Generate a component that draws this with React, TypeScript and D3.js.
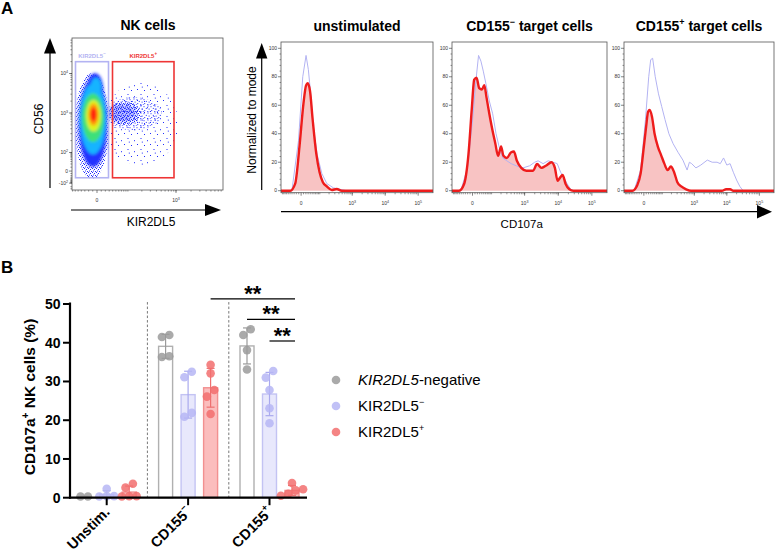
import React from 'react';
import * as d3 from 'd3';

const FONT = "'Liberation Sans', Arial, Helvetica, sans-serif";

// ================= Panel A (left): NK cells dot plot =================
// display units are decades of a logicle-like scale
const flowGateSups = ['−', '+'];
const flowGateX = [[0.99, 1.65], [1.73, 2.96]];
const flowGateY = [1.36, 4.3];
const flowGateColors = ['#b3b3f2', '#ee3535'];
const flowXTickValues = [0, 1000];
const flowXTickLabels = [['0', ''], ['10', '3']];
const flowYTickValues = [10000, 1000, 100, 0, -100];
const flowYTickLabels = [['10', '4'], ['10', '3'], ['10', '2'], ['0', ''], ['-10', '2']];
// density layers [cx, cy, rx, ry, level] (level 0 = blue ... 5 = red)
const densityLayers: number[][] = [
  [1.34, 2.75, 0.29, 1.12, 0],
  [1.38, 3.58, 0.17, 0.43, 0],
  [1.34, 2.85, 0.26, 0.9, 1],
  [1.40, 3.65, 0.11, 0.25, 1],
  [1.34, 2.88, 0.22, 0.62, 2],
  [1.35, 2.93, 0.15, 0.4, 3],
  [1.35, 2.96, 0.10, 0.28, 4],
  [1.35, 2.96, 0.06, 0.18, 5],
];
const densityColors = ['#2233ff', '#14b4ff', '#3ee07a', '#dcf51c', '#ff9a10', '#ff1a10'];
// KIR2DL5+ cloud [cx, cy, rx, ry, opacity]
const cloudLayers: number[][] = [
  [1.9, 3.0, 0.3, 0.22, 0.3],
];
// speckle (single events) regions [cx, cy, rx, ry, kind 0 dense / 1 medium / 2 sparse]
const speckleRegions: number[][] = [
  [1.32, 2.67, 0.34, 1.34, 0],
  [2.3, 2.72, 0.75, 1.05, 2],
  [2.14, 2.98, 0.58, 0.42, 1],
  [1.98, 3.0, 0.32, 0.3, 0],
];

// ================= Panel A (right): CD107a histograms =================
// [display position (decades), % of mode]
const unstimRed = [[1.12, 0], [1.27, 5], [1.40, 31], [1.52, 61], [1.60, 74], [1.65, 75.5], [1.72, 70], [1.80, 50], [1.91, 26], [2.01, 13], [2.11, 6], [2.23, 3], [2.38, 0.5], [2.53, 1.2], [2.68, 0]];
const unstimLav = [[1.17, 0], [1.37, 35], [1.50, 80], [1.60, 95], [1.67, 85], [1.74, 68], [1.82, 45], [1.94, 25], [2.08, 12], [2.23, 5], [2.43, 2], [2.63, 1], [2.83, 0]];
const negRed = [[1.05, 0], [1.20, 4.7], [1.33, 25.7], [1.43, 58], [1.50, 78], [1.57, 79.4], [1.65, 72], [1.73, 71], [1.80, 74], [1.87, 65], [1.95, 54], [2.03, 44], [2.13, 33], [2.21, 24.5], [2.30, 31], [2.37, 24.5], [2.47, 23], [2.60, 27], [2.68, 27.5], [2.77, 21], [2.90, 16], [3.05, 14], [3.25, 14], [3.37, 18.7], [3.50, 16], [3.63, 17.5], [3.80, 20], [3.90, 16], [3.98, 7], [4.05, 9], [4.13, 11], [4.22, 4.7], [4.33, 1], [4.45, 0]];
const negLav = [[1.10, 0], [1.30, 16], [1.45, 49], [1.55, 77], [1.63, 95], [1.70, 91], [1.77, 84], [1.85, 75], [1.95, 63], [2.05, 54], [2.15, 40], [2.25, 30], [2.35, 23], [2.47, 21], [2.60, 19], [2.75, 17.5], [2.95, 16], [3.15, 17.5], [3.30, 20], [3.40, 21], [3.55, 19], [3.70, 21], [3.85, 20], [3.97, 19], [4.07, 13], [4.17, 9], [4.27, 4.7], [4.37, 1], [4.45, 0]];
const posRed = [[1.10, 0], [1.25, 4], [1.35, 12], [1.45, 31], [1.52, 45], [1.58, 55.5], [1.63, 56.7], [1.70, 52], [1.78, 40], [1.88, 31], [1.98, 25], [2.08, 19], [2.18, 14.5], [2.28, 17], [2.38, 13], [2.48, 6], [2.60, 3], [2.75, 1], [2.90, 0], [3.85, 0], [3.98, 1], [4.10, 1], [4.20, 0]];
const posLav = [[1.15, 0], [1.35, 14.5], [1.50, 50], [1.60, 80], [1.66, 92], [1.72, 93], [1.80, 80], [1.90, 68], [2.00, 59], [2.10, 50], [2.22, 40], [2.35, 33], [2.50, 27], [2.65, 21.5], [2.78, 14.5], [2.85, 20], [2.92, 19], [3.05, 16], [3.20, 18], [3.40, 21.5], [3.55, 20], [3.70, 20], [3.80, 19], [3.90, 23], [4.00, 18], [4.10, 19], [4.20, 13], [4.30, 7.5], [4.40, 3], [4.50, 0]];
const histTitles = ['unstimulated', 'CD155', 'CD155'];
const histTitleSups = ['', '−', '+'];
const histTitleRest = ['', ' target cells', ' target cells'];
const histRedSeries = [unstimRed, negRed, posRed];
const histLavSeries = [unstimLav, negLav, posLav];
const histYTicks = [0, 20, 40, 60, 80, 100];
const histXTickValues = [0, 1000, 10000, 100000];
const histXTickLabels = [['0', ''], ['10', '3'], ['10', '4'], ['10', '5']];

// ================= Panel B: bar chart =================
const categories = ['Unstim.', 'CD155−', 'CD155+'];
const categoryBase = ['Unstim.', 'CD155', 'CD155'];
const categorySup = ['', '−', '+'];
const seriesKeys = ['neg', 'lav', 'pos'];
const negativeValues = [[0.3, 0.3], [41.5, 42.0, 36.5, 36.3], [43.5, 42.0, 38.1, 33.1]];
const kirNegValues = [[2.3, 0.4, 0.4, 0.3], [32.5, 31.1, 21.9, 20.9], [32.7, 31.0, 27.8, 23.1, 19.2]];
const kirPosValues = [[3.6, 2.6, 0.4, 0.4, 0.3], [34.3, 32.1, 27.8, 26.1, 21.6], [3.8, 2.2, 1.9, 1.0, 0.5]];
const barYTicks = [0, 10, 20, 30, 40, 50];
// significance: [category a, series a, category b, series b, bracket level (%)]
const comparisons: [number, number, number, number, number][] = [
  [1, 2, 2, 2, 51.3],
  [2, 0, 2, 2, 46.05],
  [2, 1, 2, 2, 40.45],
];
const comparisonLabels = ['**', '**', '**'];
const legendLabels = ['KIR2DL5', 'KIR2DL5', 'KIR2DL5'];
const legendSups = ['', '−', '+'];

// colours
const pointColors = ['#9b9b9b', '#b6b6f5', '#f26e6e'];
const barFills = ['#ffffff', '#e8e8fc', '#fbbdbd'];
const barStrokes = ['#b0b0b0', '#c3c3f3', '#f29090'];
const errColors = ['#9a9a9a', '#a9a9ee', '#ee7070'];

// ---------- transforms ----------
const histT = (v: number) => (v >= 1000 ? Math.log10(v) : 1.45 + (1.55 * Math.asinh(v / 60)) / Math.asinh(1000 / 60));
const flowXT = (v: number) => (v >= 1000 ? Math.log10(v) : 1.42 + (1.58 * Math.asinh(v / 50)) / Math.asinh(20));
const flowYT = (v: number) => (v >= 100 ? Math.log10(v) : 1.53 + ((v < 0 ? 0.65 : 1) * 0.47 * Math.asinh(v / 20)) / Math.asinh(5));
const minorValues = [
  ...d3.range(10, 100, 10).flatMap((v) => [v, -v]),
  ...d3.range(100, 1000, 100).flatMap((v) => [v, -v]),
  ...d3.range(1000, 10000, 1000),
  ...d3.range(10000, 100000, 10000),
];

// speckle textures: dot offsets inside a repeating tile [tileW, tileH, [x,y]...]
const speckleTiles: [number, number, number[][]][] = [
  [4, 4, [[0, 0], [2, 1], [1, 2.5], [3, 3]]],
  [7, 7, [[0.5, 0.5], [3.5, 1.2], [5.8, 2.9], [1.6, 3.6], [4.2, 5.1], [0.3, 6.0], [2.8, 6.3]]],
  [13, 11, [[1, 2], [7, 1], [10.5, 6], [4, 8.2], [11.8, 9.6]]],
];

function SupText(props: any) {
  const { base, sup, size, supSize, supDy, italicBase, ...rest } = props;
  return (
    <text {...rest} fontSize={size}>
      <tspan fontStyle={italicBase ? 'italic' : undefined}>{base}</tspan>
      {sup ? (
        <tspan dy={supDy} fontSize={supSize}>
          {sup}
        </tspan>
      ) : null}
    </text>
  );
}

function FlowPlot() {
  const X0 = 72, X1 = 223, Y0 = 38, Y1 = 190;
  const x = d3.scaleLinear().domain([0.92, 3.94]).range([X0, X1]);
  const y = d3.scaleLinear().domain([1.05, 4.9]).range([Y1, Y0]);
  const pxX = (u: number) => x(u) - x(0);
  const pxY = (u: number) => y(0) - y(u);
  const xMinor = minorValues.map(flowXT).filter((u) => u > 0.92 && u < 3.94);
  const yMinor = minorValues.map(flowYT).filter((u) => u > 1.05 && u < 4.9);
  return (
    <g>
      <defs>
        <clipPath id="flowclip">
          <rect x={X0} y={Y0} width={X1 - X0} height={Y1 - Y0} />
        </clipPath>
        <filter id="blur1" x="-50%" y="-50%" width="200%" height="200%">
          <feGaussianBlur stdDeviation="1.6" />
        </filter>
        {speckleTiles.map(([w, h, dots], i) => (
          <pattern key={i} id={'spk' + i} width={w} height={h} patternUnits="userSpaceOnUse">
            {dots.map((d, k) => (
              <rect key={k} x={d[0]} y={d[1]} width={1} height={1} fill="#1f2bff" />
            ))}
          </pattern>
        ))}
      </defs>
      <text x={148} y={29.5} textAnchor="middle" fontSize={14} fontWeight="bold">NK cells</text>
      <g clipPath="url(#flowclip)">
        {speckleRegions.map((s, i) => (
          <ellipse key={'s' + i} cx={x(s[0])} cy={y(s[1])} rx={pxX(s[2])} ry={pxY(s[3])} fill={`url(#spk${s[4]})`} />
        ))}
        <g filter="url(#blur1)">
          {cloudLayers.map((c, i) => (
            <ellipse key={'c' + i} cx={x(c[0])} cy={y(c[1])} rx={pxX(c[2])} ry={pxY(c[3])} fill={densityColors[0]} opacity={c[4]} />
          ))}
          {densityLayers.map((d, i) => (
            <ellipse key={'d' + i} cx={x(d[0])} cy={y(d[1])} rx={pxX(d[2])} ry={pxY(d[3])} fill={densityColors[d[4]]} />
          ))}
        </g>
      </g>
      {flowGateX.map((gx, i) => (
        <g key={'g' + i}>
          <rect x={x(gx[0])} y={y(flowGateY[1])} width={x(gx[1]) - x(gx[0])} height={y(flowGateY[0]) - y(flowGateY[1])} fill="none" stroke={flowGateColors[i]} strokeWidth={1.6} />
          <SupText x={(x(gx[0]) + x(gx[1])) / 2} y={y(flowGateY[1]) - 4} textAnchor="middle" fill={flowGateColors[i]} fontWeight="bold" base="KIR2DL5" sup={flowGateSups[i]} size={6} supSize={4.5} supDy={-2.2} />
        </g>
      ))}
      <rect x={X0} y={Y0} width={X1 - X0} height={Y1 - Y0} fill="none" stroke="#555" strokeWidth={0.8} />
      {yMinor.map((u, i) => (
        <line key={'ym' + i} x1={X0 - 1.6} x2={X0} y1={y(u)} y2={y(u)} stroke="#333" strokeWidth={0.5} />
      ))}
      {flowYTickValues.map((v, i) => (
        <g key={'yt' + i}>
          <line x1={X0 - 3} x2={X0} y1={y(flowYT(v))} y2={y(flowYT(v))} stroke="#333" strokeWidth={0.6} />
          <SupText x={X0 - 4} y={y(flowYT(v)) + 1.7} textAnchor="end" fill="#333" base={flowYTickLabels[i][0]} sup={flowYTickLabels[i][1]} size={5} supSize={3.6} supDy={-2} />
        </g>
      ))}
      {xMinor.map((u, i) => (
        <line key={'xm' + i} x1={x(u)} x2={x(u)} y1={Y1} y2={Y1 + 1.6} stroke="#333" strokeWidth={0.5} />
      ))}
      {flowXTickValues.map((v, i) => (
        <g key={'xt' + i}>
          <line x1={x(flowXT(v))} x2={x(flowXT(v))} y1={Y1} y2={Y1 + 3} stroke="#333" strokeWidth={0.6} />
          <SupText x={x(flowXT(v))} y={Y1 + 11.5} textAnchor="middle" fill="#333" base={flowXTickLabels[i][0]} sup={flowXTickLabels[i][1]} size={5} supSize={3.6} supDy={-2} />
        </g>
      ))}
      <line x1={50} x2={50} y1={188} y2={52} stroke="#000" strokeWidth={1.2} />
      <path d="M44,53.5 L56,53.5 L50,38 Z" fill="#000" />
      <line x1={71} x2={206} y1={210} y2={210} stroke="#000" strokeWidth={1.2} />
      <path d="M205,204 L205,216 L221,210 Z" fill="#000" />
      <text transform="translate(42.5,119) rotate(-90)" textAnchor="middle" fontSize={12}>CD56</text>
      <text x={151} y={226} textAnchor="middle" fontSize={12}>KIR2DL5</text>
    </g>
  );
}

const histLayoutX = [[281, 433], [452, 607], [624, 774]];
const HIST_U = [0.84, 5.45];

function HistPanel({ i }: { i: number }) {
  const [X0, X1] = histLayoutX[i];
  const Y0 = 42, Y1 = 192.7;
  const x = d3.scaleLinear().domain(HIST_U).range([X0, X1]);
  const y = d3.scaleLinear().domain([0, 100]).range([190.7, 48.3]);
  const full = (arr: number[][]) => [[HIST_U[0], 0], ...arr, [HIST_U[1], 0]];
  const area = d3.area<number[]>().x((d) => x(d[0])).y0(y(0)).y1((d) => y(d[1])).curve(d3.curveMonotoneX);
  const redLine = d3.line<number[]>().x((d) => x(d[0])).y((d) => y(d[1])).curve(d3.curveMonotoneX);
  const lavLine = d3.line<number[]>().x((d) => x(d[0])).y((d) => y(d[1])).curve(d3.curveLinear);
  const red = full(histRedSeries[i]);
  const lav = full(histLavSeries[i]);
  const xMinor = minorValues.map(histT).filter((u) => u > HIST_U[0] && u < HIST_U[1]);
  const yMinor = d3.range(0, 101, 4).filter((v) => v % 20 !== 0);
  const cid = 'hclip' + i;
  return (
    <g>
      <defs>
        <clipPath id={cid}>
          <rect x={X0} y={Y0} width={X1 - X0} height={Y1 - Y0} />
        </clipPath>
      </defs>
      <text x={(X0 + X1) / 2} y={30.5} textAnchor="middle" fontSize={14} fontWeight="bold">
        <tspan>{histTitles[i]}</tspan>
        {histTitleSups[i] ? <tspan dy={-6} fontSize={9}>{histTitleSups[i]}</tspan> : null}
        {histTitleRest[i] ? <tspan dy={6}>{histTitleRest[i]}</tspan> : null}
      </text>
      <g clipPath={`url(#${cid})`}>
        <path d={area(red) || ''} fill="#f8c3c3" />
        <path d={lavLine(lav) || ''} fill="none" stroke="#b3b3f2" strokeWidth={1} />
        <path d={redLine(red) || ''} fill="none" stroke="#ee1c1c" strokeWidth={2.4} strokeLinejoin="round" />
      </g>
      <rect x={X0} y={Y0} width={X1 - X0} height={Y1 - Y0} fill="none" stroke="#555" strokeWidth={0.8} />
      {yMinor.map((v) => (
        <line key={'ym' + v} x1={X0 - 1.5} x2={X0} y1={y(v)} y2={y(v)} stroke="#333" strokeWidth={0.5} />
      ))}
      {histYTicks.map((v) => (
        <g key={'yt' + v}>
          <line x1={X0 - 3} x2={X0} y1={y(v)} y2={y(v)} stroke="#333" strokeWidth={0.6} />
          <text x={X0 - 4} y={y(v) + 1.7} textAnchor="end" fontSize={5} fill="#333">{v}</text>
        </g>
      ))}
      {xMinor.map((u, k) => (
        <line key={'xm' + k} x1={x(u)} x2={x(u)} y1={Y1} y2={Y1 + 1.6} stroke="#333" strokeWidth={0.5} />
      ))}
      {histXTickValues.map((v, k) => (
        <g key={'xt' + k}>
          <line x1={x(histT(v))} x2={x(histT(v))} y1={Y1} y2={Y1 + 3} stroke="#333" strokeWidth={0.6} />
          <SupText x={x(histT(v))} y={Y1 + 12} textAnchor="middle" fill="#333" base={histXTickLabels[k][0]} sup={histXTickLabels[k][1]} size={5} supSize={3.6} supDy={-2} />
        </g>
      ))}
    </g>
  );
}

function Histograms() {
  return (
    <g>
      {histLayoutX.map((_, i) => (
        <HistPanel key={i} i={i} />
      ))}
      <line x1={261.7} x2={261.7} y1={190} y2={58} stroke="#000" strokeWidth={1.2} />
      <path d="M256,58.5 L267.4,58.5 L261.7,43 Z" fill="#000" />
      <text transform="translate(255.5,120) rotate(-90)" textAnchor="middle" fontSize={12}>Normalized to mode</text>
      <line x1={281} x2={758} y1={211.7} y2={211.7} stroke="#000" strokeWidth={1.2} />
      <path d="M757,205 L757,218.4 L772,211.7 Z" fill="#000" />
      <text x={521.7} y={228} textAnchor="middle" fontSize={11.5}>CD107a</text>
    </g>
  );
}

function BarChart() {
  const allValues = [negativeValues, kirNegValues, kirPosValues];
  const y = d3.scaleLinear().domain([0, 50]).range([497.7, 304]);
  const xc = d3.scalePoint<string>().domain(categories).range([106.7, 269.5]);
  const xs = d3.scalePoint<string>().domain(seriesKeys).range([-22.5, 22.5]);
  const BW = 14, R = 4.3, ROW = 7, SPACING = 7.4;
  const cx = (c: number, s: number) => (xc(categories[c]) as number) + (xs(seriesKeys[s]) as number);

  const swarm = (vals: number[]) => {
    const sorted = [...vals].sort((a, b) => a - b);
    const rows: number[][] = [];
    sorted.forEach((v) => {
      const last = rows[rows.length - 1];
      if (last && Math.abs(y(last[0]) - y(v)) < ROW) last.push(v);
      else rows.push([v]);
    });
    return rows.flatMap((row) => row.map((v, k) => ({ v, dx: (k - (row.length - 1) / 2) * SPACING })));
  };

  const cats = categories.map((_, c) => c);
  const mids = d3.pairs(categories.map((c) => xc(c) as number)).map(([a, b]) => (a + b) / 2);

  return (
    <g>
      <text transform="translate(35,397) rotate(-90)" textAnchor="middle" fontSize={15.5} fontWeight="bold">
        <tspan>CD107a</tspan>
        <tspan dy={-6} fontSize={10}>+</tspan>
        <tspan dy={6}> NK cells (%)</tspan>
      </text>
      {mids.map((m, i) => (
        <line key={'sep' + i} x1={m} x2={m} y1={y(50.5)} y2={y(0)} stroke="#777" strokeWidth={1} strokeDasharray="2.5,2" />
      ))}
      {cats.map((c) =>
        seriesKeys.map((_, s) => {
          const vals = allValues[s][c];
          const mean = d3.mean(vals) as number;
          const sd = (d3.deviation(vals) as number) || 0;
          const x0 = cx(c, s);
          const pts = swarm(vals);
          return (
            <g key={`b${c}-${s}`}>
              <rect x={x0 - BW / 2} y={y(mean)} width={BW} height={y(0) - y(mean)} fill={barFills[s]} stroke={barStrokes[s]} strokeWidth={1.4} />
              <line x1={x0} x2={x0} y1={y(mean + sd)} y2={y(Math.max(0, mean - sd))} stroke={errColors[s]} strokeWidth={1.2} />
              <line x1={x0 - 4} x2={x0 + 4} y1={y(mean + sd)} y2={y(mean + sd)} stroke={errColors[s]} strokeWidth={1.2} />
              <line x1={x0 - 4} x2={x0 + 4} y1={y(Math.max(0, mean - sd))} y2={y(Math.max(0, mean - sd))} stroke={errColors[s]} strokeWidth={1.2} />
              {pts.map((p, k) => (
                <circle key={k} cx={x0 + p.dx} cy={y(p.v)} r={R} fill={pointColors[s]} fillOpacity={0.85} />
              ))}
            </g>
          );
        })
      )}
      <line x1={70} x2={70} y1={y(50) - 1.5} y2={y(0) + 1} stroke="#000" strokeWidth={2.2} />
      {barYTicks.map((t) => (
        <g key={'yt' + t}>
          <line x1={63} x2={70} y1={y(t)} y2={y(t)} stroke="#000" strokeWidth={2} />
          <text x={60.5} y={y(t) + 5} textAnchor="end" fontSize={14} fontWeight="bold">{t}</text>
        </g>
      ))}
      <line x1={69} x2={307} y1={y(0)} y2={y(0)} stroke="#000" strokeWidth={2.2} />
      {categories.map((c, i) => (
        <g key={'xt' + c}>
          <line x1={xc(c)} x2={xc(c)} y1={y(0)} y2={y(0) + 7.5} stroke="#000" strokeWidth={2} />
          <text transform={`translate(${(xc(c) as number) + 4},513) rotate(-45)`} textAnchor="end" fontSize={14.5} fontWeight="bold">
            <tspan>{categoryBase[i]}</tspan>
            {categorySup[i] ? <tspan dy={-7} fontSize={9}>{categorySup[i]}</tspan> : null}
          </text>
        </g>
      ))}
      {comparisons.map(([ca, sa, cb, sb, lvl], i) => {
        const xa = cx(ca, sa);
        const xb = cx(cb, sb) + 3;
        return (
          <g key={'sig' + i}>
            <line x1={xa} x2={xb} y1={y(lvl)} y2={y(lvl)} stroke="#000" strokeWidth={1.2} />
            <text x={(xa + xb) / 2} y={y(lvl) + 2} textAnchor="middle" fontSize={22} fontWeight="bold">{comparisonLabels[i]}</text>
          </g>
        );
      })}
      {legendLabels.map((l, i) => (
        <g key={'lg' + i}>
          <circle cx={336} cy={380 + i * 26} r={R} fill={pointColors[i]} fillOpacity={0.85} />
          <text x={358} y={380 + i * 26 + 5.3} fontSize={15}>
            <tspan fontStyle={i === 0 ? 'italic' : undefined}>{l}</tspan>
            {i === 0 ? <tspan>-negative</tspan> : <tspan dy={-6} fontSize={9}>{legendSups[i]}</tspan>}
          </text>
        </g>
      ))}
    </g>
  );
}

export default function App() {
  return (
    <svg width={775} height={556} viewBox="0 0 775 556" style={{ position: 'absolute', left: 0, top: 0, display: 'block', background: '#fff' }} fontFamily={FONT}>
      <rect width={775} height={556} fill="#fff" />
      <text x={1} y={13.5} fontSize={17} fontWeight="bold">A</text>
      <text x={1} y={273} fontSize={17} fontWeight="bold">B</text>
      <FlowPlot />
      <Histograms />
      <BarChart />
    </svg>
  );
}
